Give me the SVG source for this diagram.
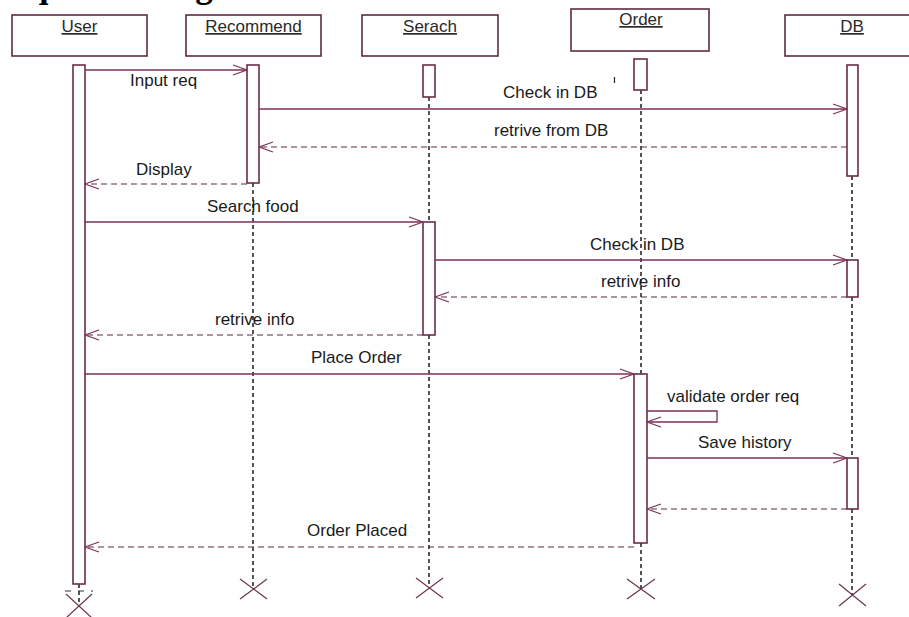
<svg xmlns="http://www.w3.org/2000/svg" width="909" height="617" viewBox="0 0 909 617">
  <defs>
    <style>
      .head { fill: #ffffff; stroke: #5e2a43; stroke-width: 1.6; }
      .act { fill: #ffffff; stroke: #6a2c48; stroke-width: 1.6; }
      .life { stroke: #2a2a2a; stroke-width: 1.6; stroke-dasharray: 4 3; fill: none; }
      .msg { stroke: #7d2f55; stroke-width: 1.3; fill: none; }
      .ret { stroke: #5a2a44; stroke-width: 1.2; stroke-dasharray: 6 4; fill: none; }
      .xmark { stroke: #6a3550; stroke-width: 1.2; fill: none; }
      .lbl { font-family: "Liberation Sans", Arial, sans-serif; font-size: 17px; fill: #1a1a1a; }
      .name { font-family: "Liberation Sans", Arial, sans-serif; font-size: 17px; fill: #2a2a2a; text-anchor: middle; text-decoration: underline; }
      .title { font-family: "Liberation Serif", "Times New Roman", serif; font-size: 35px; font-weight: bold; fill: #000; }
    </style>
    <marker id="open" markerWidth="16" markerHeight="12" refX="15" refY="6" orient="auto" markerUnits="userSpaceOnUse">
      <path d="M1,1 L15,6 L1,11" fill="none" stroke="#7d2f55" stroke-width="1.2"/>
    </marker>
  </defs>

  <!-- page heading, running off the top edge -->
  <text class="title" x="-6" y="-3">Sequence Diagram</text>

  <!-- lifelines -->
  <g id="lifelines">
    <line class="life" x1="79" y1="584" x2="79" y2="606"/>
    <line class="life" x1="253" y1="183" x2="253" y2="588"/>
    <line class="life" x1="429" y1="97" x2="429" y2="222"/>
    <line class="life" x1="429" y1="335" x2="429" y2="588"/>
    <line class="life" x1="641" y1="90" x2="641" y2="374"/>
    <line class="life" x1="641" y1="543" x2="641" y2="589"/>
    <line class="life" x1="852" y1="176" x2="852" y2="260"/>
    <line class="life" x1="852" y1="297" x2="852" y2="458"/>
    <line class="life" x1="852" y1="509" x2="852" y2="595"/>
  </g>

  <g id="user">
    <rect class="head" x="12" y="15" width="135" height="41"/>
    <text class="name" x="79.5" y="32">User</text>
    <rect class="act" x="73" y="65" width="12" height="519"/>
    <line x1="65" y1="591" x2="93" y2="591" stroke="#333" stroke-width="1.2" stroke-dasharray="6 7"/>
    <path class="xmark" d="M66,594 L92,618 M92,594 L66,618"/>
  </g>

  <g id="recommend">
    <rect class="head" x="186" y="15" width="135" height="41"/>
    <text class="name" x="253.5" y="32">Recommend</text>
    <rect class="act" x="247" y="65" width="12" height="118"/>
    <path class="xmark" d="M240,579 L267,599 M267,579 L240,599"/>
  </g>

  <g id="serach">
    <rect class="head" x="362" y="15" width="136" height="41"/>
    <text class="name" x="430" y="32">Serach</text>
    <rect class="act" x="423" y="65" width="12" height="32"/>
    <rect class="act" x="423" y="222" width="12" height="113"/>
    <path class="xmark" d="M416,578 L443,598 M443,578 L416,598"/>
  </g>

  <g id="order">
    <rect class="head" x="571" y="9" width="138" height="42"/>
    <text class="name" x="641" y="25">Order</text>
    <rect class="act" x="634" y="59" width="13" height="31"/>
    <rect class="act" x="634" y="374" width="13" height="169"/>
    <path class="xmark" d="M627,579 L655,599 M655,579 L627,599"/>
  </g>

  <g id="db">
    <rect class="head" x="785" y="15" width="140" height="41"/>
    <text class="name" x="852" y="32">DB</text>
    <rect class="act" x="847" y="65" width="11" height="111"/>
    <rect class="act" x="847" y="260" width="11" height="37"/>
    <rect class="act" x="847" y="458" width="11" height="51"/>
    <path class="xmark" d="M839,584 L866,606 M866,584 L839,606"/>
  </g>

  <!-- messages -->
  <g id="connectors">
    <line class="msg" x1="85" y1="70" x2="247" y2="70" marker-end="url(#open)"/>
    <line class="msg" x1="259" y1="109" x2="847" y2="109" marker-end="url(#open)"/>
    <line class="ret" x1="847" y1="147" x2="259" y2="147" marker-end="url(#open)"/>
    <line class="ret" x1="247" y1="184" x2="85" y2="184" marker-end="url(#open)"/>
    <line class="msg" x1="85" y1="222" x2="423" y2="222" marker-end="url(#open)"/>
    <line class="msg" x1="435" y1="260" x2="847" y2="260" marker-end="url(#open)"/>
    <line class="ret" x1="847" y1="297" x2="435" y2="297" marker-end="url(#open)"/>
    <line class="ret" x1="423" y1="335" x2="85" y2="335" marker-end="url(#open)"/>
    <line class="msg" x1="85" y1="374" x2="634" y2="374" marker-end="url(#open)"/>
    <path class="msg" d="M647,411 L717,411 L717,422 L647,422" marker-end="url(#open)"/>
    <line class="msg" x1="647" y1="458" x2="847" y2="458" marker-end="url(#open)"/>
    <line class="ret" x1="847" y1="509" x2="647" y2="509" marker-end="url(#open)"/>
    <line class="ret" x1="634" y1="547" x2="85" y2="547" marker-end="url(#open)"/>
  </g>

  <!-- message labels -->
  <g id="labels">
    <text class="lbl" x="130" y="86">Input req</text>
    <text class="lbl" x="503" y="98">Check in DB</text>
    <line x1="614.5" y1="77" x2="614.5" y2="83" stroke="#222" stroke-width="1.2"/>
    <text class="lbl" x="494" y="136">retrive from DB</text>
    <text class="lbl" x="136" y="175">Display</text>
    <text class="lbl" x="207" y="212">Search food</text>
    <text class="lbl" x="590" y="250">Check in DB</text>
    <text class="lbl" x="601" y="287">retrive info</text>
    <text class="lbl" x="215" y="325">retrive info</text>
    <text class="lbl" x="311" y="363">Place Order</text>
    <text class="lbl" x="667" y="402">validate order req</text>
    <text class="lbl" x="698" y="448">Save history</text>
    <text class="lbl" x="307" y="536">Order Placed</text>
  </g>
</svg>
